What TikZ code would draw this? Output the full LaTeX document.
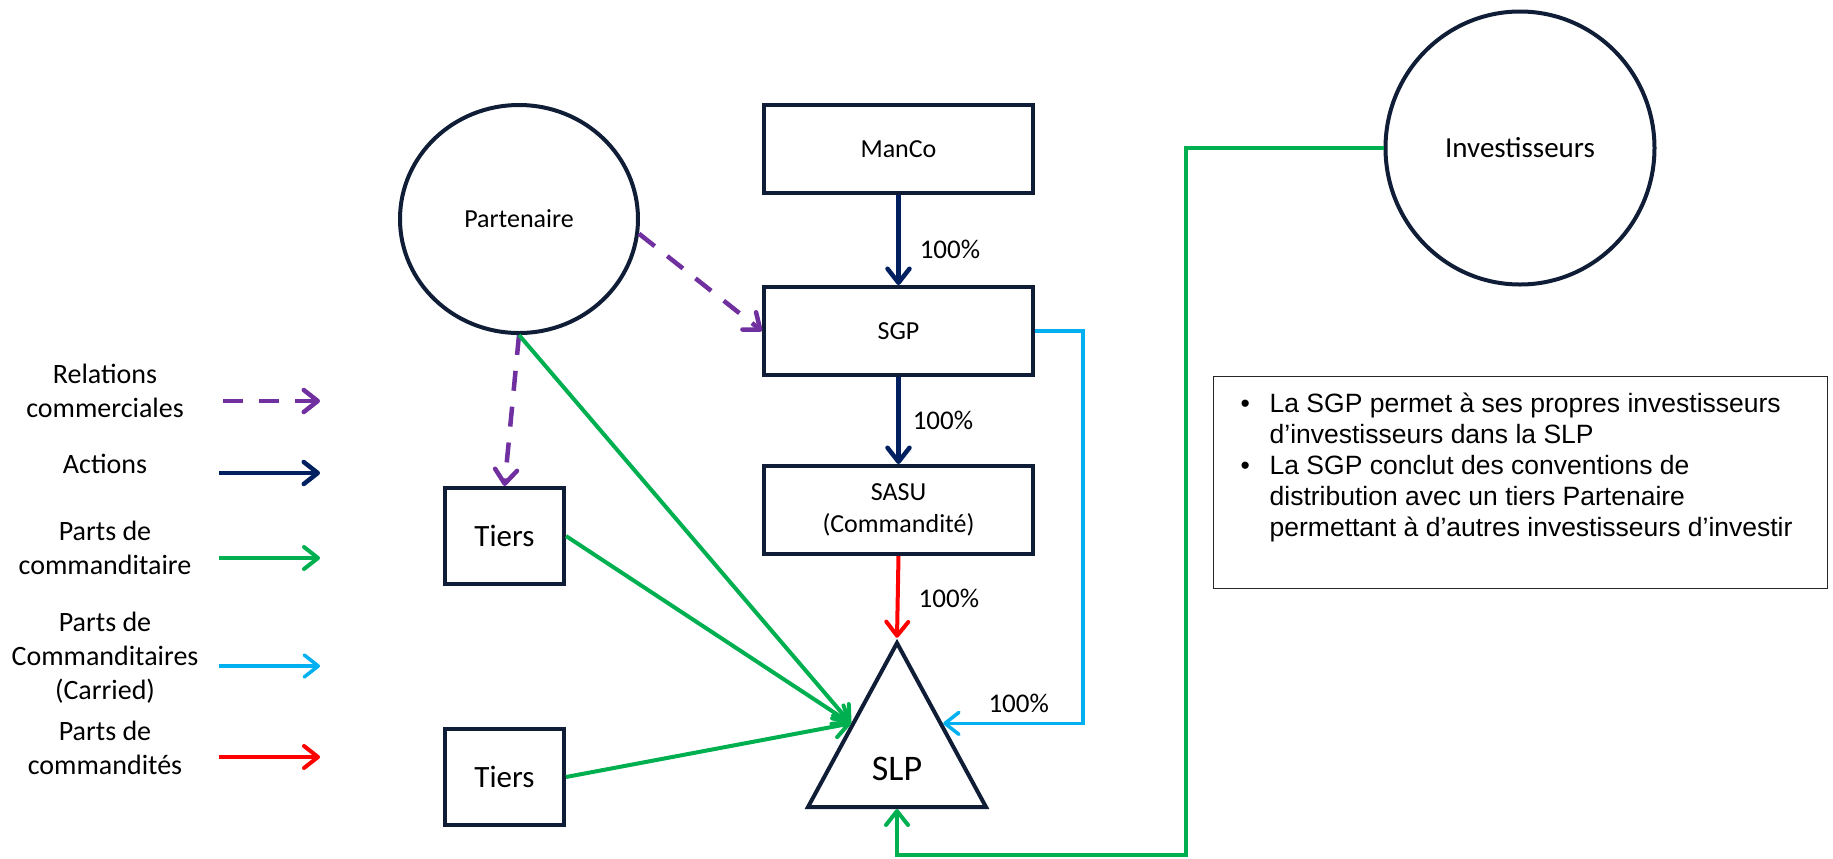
\documentclass[tikz,border=0pt]{standalone}
\usepackage{fontspec}
\setmainfont{Carlito}
\newfontfamily\notefont{Liberation Sans}
\usepackage{tikz}
\usetikzlibrary{shapes.geometric, arrows.meta, positioning, calc}
\definecolor{boxnavy}{HTML}{0F1D36}
\definecolor{actnavy}{HTML}{002060}
\definecolor{relpurple}{HTML}{7030A0}
\definecolor{lpgreen}{HTML}{00B050}
\definecolor{carriedblue}{HTML}{00B0F0}
\definecolor{gpred}{HTML}{FF0000}

\begin{document}
\begin{tikzpicture}[
    x=0.5pt, y=-0.5pt,
    entity/.style={rectangle, draw=boxnavy, line width=2pt, minimum width=134.5pt, minimum height=44pt, font=\fontsize{13pt}{16pt}\selectfont, align=center},
    tiersbox/.style={rectangle, draw=boxnavy, line width=2pt, minimum width=59.5pt, minimum height=48pt, font=\fontsize{15.5pt}{18pt}\selectfont},
    party/.style={ellipse, draw=boxnavy, line width=2pt, inner sep=0pt, font=\fontsize{13pt}{16pt}\selectfont},
    fund/.style={isosceles triangle, isosceles triangle stretches, shape border rotate=90, draw=boxnavy, line width=2pt, minimum width=89pt, minimum height=82pt, inner sep=0pt},
    fundname/.style={inner sep=0pt, font=\fontsize{18pt}{20pt}\selectfont},
    legendtxt/.style={align=center, inner sep=0pt, font=\fontsize{14pt}{17pt}\selectfont},
    pct/.style={inner sep=0pt, font=\fontsize{13.5pt}{16pt}\selectfont},
    openhead/.style={-{Straight Barb[length=7pt, width=11pt, round]}},
    rel/.style={openhead, draw=relpurple, line width=2.25pt, dash pattern=on 10pt off 8pt},
    act/.style={openhead, draw=actnavy, line width=2.25pt},
    lp/.style={openhead, draw=lpgreen, line width=2pt},
    carried/.style={openhead, draw=carriedblue, line width=1.75pt},
    gp/.style={openhead, draw=gpred, line width=2pt},
    notebox/.style={draw=black!85, line width=0.65pt, inner sep=0pt, font=\notefont\fontsize{13.25pt}{15.6pt}\selectfont}
]
\useasboundingbox (0,0) rectangle (1833,858);

% Structure
\node[entity] (manco) at (898.5,149) {ManCo};
\node[entity, below=45pt of manco] (sgp) {SGP};
\node[entity, below=43.5pt of sgp] (sasu) {SASU\\(Commandité)};
\node[fund, anchor=lower side] (slp) at (897,809) {};
\node[fundname, above=14pt of slp.lower side] (slpname) {SLP};

% Partners and third parties
\node[party, minimum width=119pt, minimum height=114pt] (part) at (519,219) {Partenaire};
\node[party, minimum width=134.5pt, minimum height=136.5pt, font=\fontsize{14.5pt}{17pt}\selectfont] (inv) at (1520,148) {Investisseurs};
\node[tiersbox] (tiers1) at (504.5,536) {Tiers};
\node[tiersbox, below=70.5pt of tiers1] (tiers2) {Tiers};

% Note
\node[notebox] (note) at (1520.5,482.5) {\parbox[c][105.85pt][t]{306.85pt}{\vspace*{6.8pt}%
\begin{tabular}[t]{@{\hspace{13.5pt}}p{14.5pt}@{}l}
\textbullet & La SGP permet à ses propres investisseurs\\
 & d’investisseurs dans la SLP\\
\textbullet & La SGP conclut des conventions de\\
 & distribution avec un tiers Partenaire\\
 & permettant à d’autres investisseurs d’investir
\end{tabular}}};

% Legend
\node[legendtxt] (lgrel) at (105,391) {Relations\\commerciales};
\node[legendtxt] (lgact) at (105,464) {Actions};
\node[legendtxt] (lglp) at (105,548) {Parts de\\commanditaire};
\node[legendtxt] (lgcar) at (105,658) {Parts de\\Commanditaires\\(Carried)};
\node[legendtxt] (lggp) at (105,748) {Parts de\\commandités};
\coordinate (relA) at (223,401); \coordinate (relB) at (320,401);
\coordinate (actA) at (219,473); \coordinate (actB) at (320,473);
\coordinate (lpA) at (219,558);  \coordinate (lpB) at (320,558);
\coordinate (carA) at (219,666); \coordinate (carB) at (320,666);
\coordinate (gpA) at (219,757);  \coordinate (gpB) at (320,757);
\draw[rel] (relA) -- (relB);
\draw[act] (actA) -- (actB);
\draw[lp] (lpA) -- (lpB);
\draw[carried] (carA) -- (carB);
\draw[gp] (gpA) -- (gpB);

% Connectors
\draw[act] (manco) -- node[pct, pos=0.6, right=9.5pt] {100\%} (sgp);
\draw[act] (sgp) -- node[pct, right=6pt] {100\%} (sasu);
\draw[gp] (sasu.south) -- node[pct, pos=0.52, right=9.5pt] {100\%} (slp.apex);
\draw[carried] (sgp.east) -- ++(24pt,0pt) |- node[pct, pos=0.73, above=4.5pt] {100\%} (slp.right side);
\draw[rel] (part.-7) -- (sgp.west);
\draw[rel] (part.south) -- (tiers1.north);
\draw[lp] (part.south) -- (slp.left side);
\draw[lp] (tiers1.east) -- (slp.left side);
\draw[lp] (tiers2.east) -- (slp.left side);
\coordinate (loop) at (1186,855);
\draw[lp] (inv.west) -| (loop) -| (slp.lower side);

\end{tikzpicture}
\end{document}
